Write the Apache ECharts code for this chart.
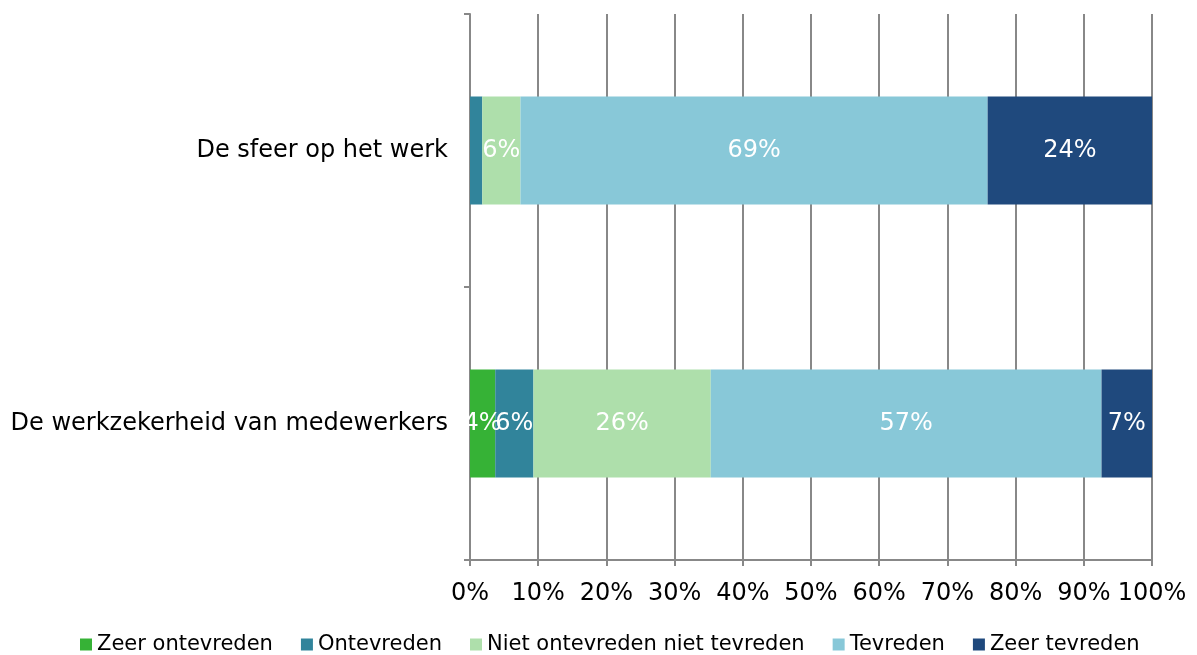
<!DOCTYPE html>
<html>
<head>
<meta charset="utf-8">
<script src="https://cdn.jsdelivr.net/npm/echarts@6/dist/echarts.min.js"></script>
<style>
  html, body { margin: 0; padding: 0; background: #fff; }
  #chart { width: 1197px; height: 655px; }
</style>
</head>
<body>
<div id="chart"></div>
<script>
var categories = ['De sfeer op het werk', 'De werkzekerheid van medewerkers'];
var seriesNames = ['Zeer ontevreden', 'Ontevreden', 'Niet ontevreden niet tevreden', 'Tevreden', 'Zeer tevreden'];
var zeerOntevreden = [0, 3.7];
var ontevreden = [1.8, 5.6];
var neutraal = [5.6, 26.0];
var tevreden = [68.5, 57.3];
var zeerTevreden = [24.1, 7.4];
var colors = ['#36B236', '#31849B', '#AEDFAB', '#88C8D8', '#1F497D'];

var values = [zeerOntevreden, ontevreden, neutraal, tevreden, zeerTevreden];
var font = 'DejaVu Sans, Verdana, sans-serif';

var chart = echarts.init(document.getElementById('chart'));

var series = seriesNames.map(function (name, i) {
    return {
        name: name,
        type: 'bar',
        stack: 'total',
        barWidth: 108,
        itemStyle: { color: colors[i] },
        label: {
            show: true,
            position: 'inside',
            color: '#fff',
            fontFamily: font,
            fontSize: 24,
            formatter: function (p) {
                return p.value >= 3 ? Math.round(p.value) + '%' : '';
            }
        },
        data: values[i]
    };
});

chart.setOption({
    animation: false,
    textStyle: { fontFamily: font },
    grid: { left: 470, right: 45, top: 14, bottom: 95, containLabel: false },
    legend: {
        bottom: -5,
        left: 75,
        itemWidth: 12,
        itemHeight: 12,
        itemGap: 28,
        icon: 'rect',
        textStyle: { fontSize: 21, color: '#000', fontFamily: font },
        data: seriesNames
    },
    xAxis: {
        type: 'value',
        min: 0,
        max: 100,
        interval: 10,
        axisLine: { show: true, lineStyle: { color: '#888', width: 2 } },
        axisTick: { show: true, length: 6, lineStyle: { color: '#888', width: 2 } },
        splitLine: { show: true, lineStyle: { color: '#888', width: 2 } },
        axisLabel: { formatter: '{value}%', fontSize: 24, color: '#000', margin: 22, fontFamily: font }
    },
    yAxis: {
        type: 'category',
        inverse: true,
        data: categories,
        axisLine: { show: true, lineStyle: { color: '#888', width: 2 } },
        axisTick: { show: true, length: 6, lineStyle: { color: '#888', width: 2 } },
        axisLabel: { fontSize: 24, color: '#000', margin: 22, fontFamily: font }
    },
    series: series
});
</script>
</body>
</html>
